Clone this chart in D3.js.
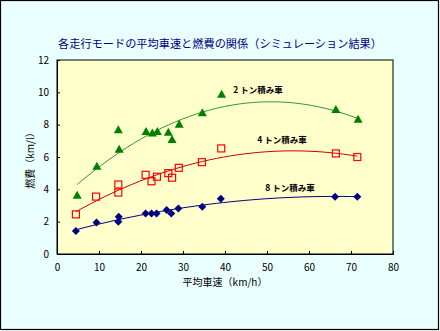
<!DOCTYPE html>
<html><head><meta charset="utf-8">
<script src="https://cdn.jsdelivr.net/npm/d3@7"></script>
<style>body{margin:0;background:#fff}svg{display:block}text{font-family:"Noto Sans CJK JP","Noto Sans",sans-serif}</style>
</head><body><svg id="c" width="440" height="331"></svg>
<script>
const title = "各走行モードの平均車速と燃費の関係（シミュレーション結果）";
const xTitle = "平均車速（km/h）";
const yTitle = "燃費（km/l）";
const xTicks = [0,10,20,30,40,50,60,70,80];
const yTicks = [0,2,4,6,8,10,12];
const seriesNames = ["2 トン積み車","4 トン積み車","8 トン積み車"];
const speed2t = [4.8,9.5,14.6,14.8,21.2,22.7,23.9,26.5,27.4,29.1,34.6,39.2,66.4,71.7];
const fuel2t  = [3.6,5.4,7.65,6.45,7.55,7.45,7.55,7.5,7.05,8.0,8.7,9.85,8.9,8.3];
const speed4t = [4.5,9.3,14.6,14.6,21.1,22.5,23.8,26.5,27.4,29.0,34.5,39.1,66.4,71.5];
const fuel4t  = [2.45,3.55,3.8,4.3,4.9,4.5,4.78,5.0,4.72,5.33,5.68,6.53,6.22,6.0];
const speed8t = [4.5,9.4,14.6,14.7,21.1,22.5,23.7,26.1,27.2,28.9,34.6,39.0,66.2,71.5];
const fuel8t  = [1.42,1.95,2.0,2.31,2.51,2.51,2.51,2.72,2.5,2.82,2.93,3.42,3.54,3.54];

const svg = d3.select("#c");
svg.append("rect").attr("x",0.5).attr("y",0.5).attr("width",438).attr("height",329)
  .attr("fill","#EAFFFF").attr("stroke","#000").attr("stroke-width",1.2);

const L=57,R=393,T=60,B=254;
const x = d3.scaleLinear().domain([0,80]).range([L,R]);
const y = d3.scaleLinear().domain([0,12]).range([B,T]);

svg.append("rect").attr("x",L).attr("y",T).attr("width",R-L).attr("height",B-T)
  .attr("fill","#FFFFCC").attr("stroke","#000").attr("stroke-width",1);

const gx = svg.append("g").attr("transform",`translate(0,${B})`)
  .call(d3.axisBottom(x).tickValues(xTicks).tickSize(-3).tickPadding(8));
const gy = svg.append("g").attr("transform",`translate(${L},0)`)
  .call(d3.axisLeft(y).tickValues(yTicks).tickSize(-3).tickPadding(8));
[gx,gy].forEach(g=>{
  g.selectAll("path,line").attr("stroke","#000");
  g.selectAll("text").attr("font-size",10).attr("fill","#000").attr("font-family","Liberation Sans, Arial, sans-serif");
});
gx.selectAll("text").attr("dy","0.9em");

svg.append("text").attr("x",220).attr("y",48).attr("text-anchor","middle")
  .attr("font-size",11.2).attr("fill","#000080").text(title);
svg.append("text").attr("x",225).attr("y",286).attr("text-anchor","middle")
  .attr("font-size",10).attr("fill","#000").text(xTitle);
svg.append("text").attr("transform","translate(34,158) rotate(-90)").attr("text-anchor","middle")
  .attr("font-size",10).attr("fill","#000").text(yTitle);

function quadFit(xs, ys){
  let n=xs.length,s=[0,0,0,0,0],t=[0,0,0];
  for(let i=0;i<n;i++){let p=1;for(let k=0;k<5;k++){s[k]+=p;if(k<3)t[k]+=p*ys[i];p*=xs[i];}}
  const A=[[s[0],s[1],s[2],t[0]],[s[1],s[2],s[3],t[1]],[s[2],s[3],s[4],t[2]]];
  for(let i=0;i<3;i++){for(let j=i+1;j<3;j++){const f=A[j][i]/A[i][i];for(let k=i;k<4;k++)A[j][k]-=f*A[i][k];}}
  const c=[0,0,0];
  for(let i=2;i>=0;i--){let v=A[i][3];for(let k=i+1;k<3;k++)v-=A[i][k]*c[k];c[i]=v/A[i][i];}
  return c;
}
const series = [
  {xs:speed2t, ys:fuel2t, mark:"#008000", line:"#339933", sym:"tri", lx:258, ly:93},
  {xs:speed4t, ys:fuel4t, mark:"#FF0000", line:"#CC0000", sym:"sq", lx:282, ly:143},
  {xs:speed8t, ys:fuel8t, mark:"#000080", line:"#000080", sym:"dia", lx:290, ly:191}
];
series.forEach((s,si)=>{
  const c = quadFit(s.xs,s.ys);
  const x0=d3.min(s.xs), x1=d3.max(s.xs);
  const pts = d3.range(0,41).map(i=>{const v=x0+(x1-x0)*i/40;return [v,c[0]+c[1]*v+c[2]*v*v];});
  svg.append("path").attr("d",d3.line().x(d=>x(d[0])).y(d=>y(d[1]))(pts))
    .attr("fill","none").attr("stroke",s.line).attr("stroke-width",1);
  const g = svg.append("g");
  s.xs.forEach((v,i)=>{
    const px=x(v), py=y(s.ys[i]);
    if(s.sym==="tri"){
      g.append("path").attr("d",`M${px},${py-5}L${px+4.5},${py+3}L${px-4.5},${py+3}Z`).attr("fill",s.mark);
    } else if(s.sym==="sq"){
      g.append("rect").attr("x",px-3.5).attr("y",py-3.5).attr("width",7).attr("height",7)
        .attr("fill","none").attr("stroke",s.mark).attr("stroke-width",1.2);
    } else {
      g.append("path").attr("d",`M${px},${py-4}L${px+4},${py}L${px},${py+4}L${px-4},${py}Z`).attr("fill",s.mark);
    }
  });
  svg.append("text").attr("x",s.lx).attr("y",s.ly).attr("text-anchor","middle")
    .attr("font-size",8.5).attr("font-weight",600).attr("fill","#000").text(seriesNames[si]);
});
</script></body></html>
